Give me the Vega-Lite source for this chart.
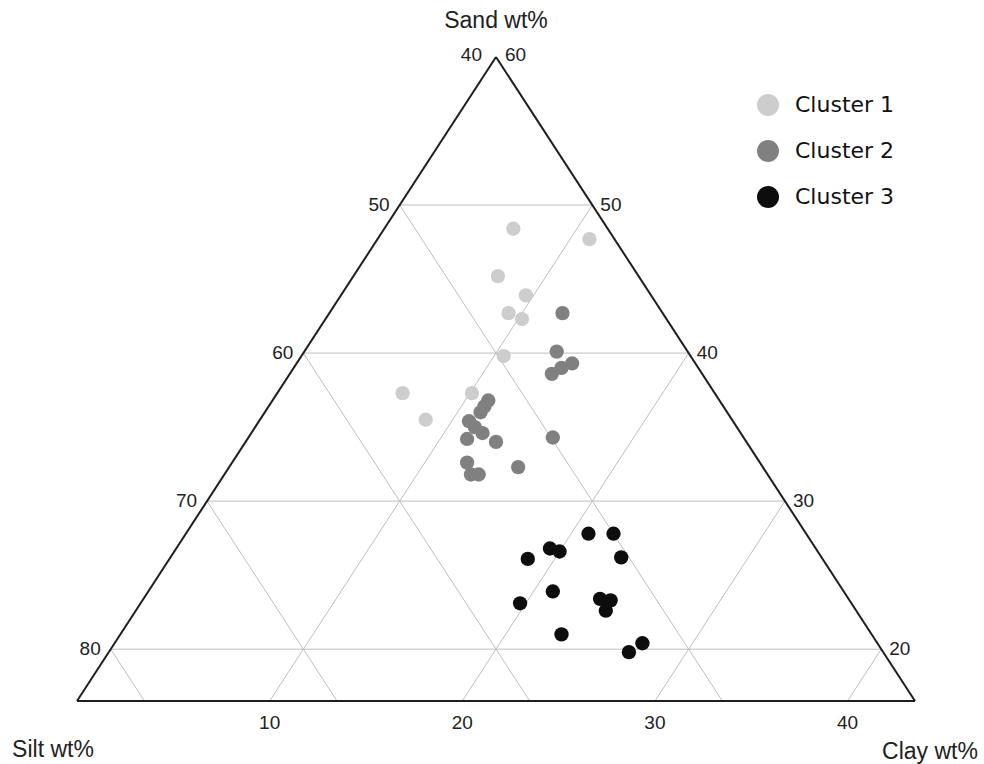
{
  "$schema": "https://vega.github.io/schema/vega-lite/v6.json",
  "width": 838,
  "height": 644,
  "autosize": {"type": "none"},
  "padding": {"left": 77, "top": 57, "right": 69, "bottom": 63},
  "background": "white",
  "config": {
    "view": {"stroke": null},
    "legend": {
      "orient": "none",
      "legendX": 680,
      "legendY": 37,
      "title": null,
      "symbolType": "circle",
      "symbolSize": 484,
      "symbolStrokeWidth": 0,
      "symbolOpacity": 1,
      "labelFont": "DejaVu Sans",
      "labelFontSize": 22,
      "labelColor": "#111111",
      "labelOffset": 16,
      "rowPadding": 24,
      "padding": 0
    }
  },
  "datasets": {
    "points": [
      {"cluster": "Cluster 1", "sand": 48.4, "clay": 6.7, "silt": 44.9},
      {"cluster": "Cluster 1", "sand": 47.7, "clay": 11.0, "silt": 41.3},
      {"cluster": "Cluster 1", "sand": 45.2, "clay": 7.5, "silt": 47.3},
      {"cluster": "Cluster 1", "sand": 43.9, "clay": 9.6, "silt": 46.5},
      {"cluster": "Cluster 1", "sand": 42.7, "clay": 9.3, "silt": 48.0},
      {"cluster": "Cluster 1", "sand": 42.3, "clay": 10.2, "silt": 47.5},
      {"cluster": "Cluster 1", "sand": 39.8, "clay": 10.5, "silt": 49.7},
      {"cluster": "Cluster 1", "sand": 37.3, "clay": 6.5, "silt": 56.2},
      {"cluster": "Cluster 1", "sand": 37.3, "clay": 10.1, "silt": 52.6},
      {"cluster": "Cluster 1", "sand": 35.5, "clay": 8.6, "silt": 55.9},
      {"cluster": "Cluster 2", "sand": 42.7, "clay": 12.1, "silt": 45.2},
      {"cluster": "Cluster 2", "sand": 40.1, "clay": 13.1, "silt": 46.8},
      {"cluster": "Cluster 2", "sand": 39.3, "clay": 14.3, "silt": 46.4},
      {"cluster": "Cluster 2", "sand": 39.0, "clay": 13.9, "silt": 47.1},
      {"cluster": "Cluster 2", "sand": 38.6, "clay": 13.6, "silt": 47.8},
      {"cluster": "Cluster 2", "sand": 36.8, "clay": 11.2, "silt": 52.0},
      {"cluster": "Cluster 2", "sand": 36.4, "clay": 11.2, "silt": 52.4},
      {"cluster": "Cluster 2", "sand": 36.0, "clay": 11.2, "silt": 52.8},
      {"cluster": "Cluster 2", "sand": 35.4, "clay": 10.9, "silt": 53.7},
      {"cluster": "Cluster 2", "sand": 35.0, "clay": 11.4, "silt": 53.6},
      {"cluster": "Cluster 2", "sand": 34.6, "clay": 12.0, "silt": 53.4},
      {"cluster": "Cluster 2", "sand": 34.2, "clay": 11.4, "silt": 54.4},
      {"cluster": "Cluster 2", "sand": 34.0, "clay": 13.0, "silt": 53.0},
      {"cluster": "Cluster 2", "sand": 34.3, "clay": 15.8, "silt": 49.9},
      {"cluster": "Cluster 2", "sand": 32.6, "clay": 12.2, "silt": 55.2},
      {"cluster": "Cluster 2", "sand": 32.3, "clay": 15.0, "silt": 52.7},
      {"cluster": "Cluster 2", "sand": 31.8, "clay": 12.8, "silt": 55.4},
      {"cluster": "Cluster 2", "sand": 31.8, "clay": 13.2, "silt": 55.0},
      {"cluster": "Cluster 3", "sand": 27.8, "clay": 20.9, "silt": 51.3},
      {"cluster": "Cluster 3", "sand": 27.8, "clay": 22.2, "silt": 50.0},
      {"cluster": "Cluster 3", "sand": 26.8, "clay": 19.4, "silt": 53.8},
      {"cluster": "Cluster 3", "sand": 26.6, "clay": 20.0, "silt": 53.4},
      {"cluster": "Cluster 3", "sand": 26.1, "clay": 18.6, "silt": 55.3},
      {"cluster": "Cluster 3", "sand": 26.2, "clay": 23.4, "silt": 50.4},
      {"cluster": "Cluster 3", "sand": 23.9, "clay": 21.0, "silt": 55.1},
      {"cluster": "Cluster 3", "sand": 23.4, "clay": 23.7, "silt": 52.9},
      {"cluster": "Cluster 3", "sand": 23.3, "clay": 24.3, "silt": 52.4},
      {"cluster": "Cluster 3", "sand": 22.6, "clay": 24.4, "silt": 53.0},
      {"cluster": "Cluster 3", "sand": 23.1, "clay": 19.7, "silt": 57.2},
      {"cluster": "Cluster 3", "sand": 21.0, "clay": 22.9, "silt": 56.1},
      {"cluster": "Cluster 3", "sand": 20.4, "clay": 27.4, "silt": 52.2},
      {"cluster": "Cluster 3", "sand": 19.8, "clay": 27.0, "silt": 53.2}
    ],
    "grid": [
      {"kind": "sand", "s1": 50, "c1": 0, "s2": 50, "c2": 10},
      {"kind": "sand", "s1": 40, "c1": 0, "s2": 40, "c2": 20},
      {"kind": "sand", "s1": 30, "c1": 0, "s2": 30, "c2": 30},
      {"kind": "sand", "s1": 20, "c1": 0, "s2": 20, "c2": 40},
      {"kind": "clay", "s1": 16.5, "c1": 10, "s2": 50, "c2": 10},
      {"kind": "clay", "s1": 16.5, "c1": 20, "s2": 40, "c2": 20},
      {"kind": "clay", "s1": 16.5, "c1": 30, "s2": 30, "c2": 30},
      {"kind": "clay", "s1": 16.5, "c1": 40, "s2": 20, "c2": 40},
      {"kind": "silt", "s1": 50, "c1": 0, "s2": 16.5, "c2": 33.5},
      {"kind": "silt", "s1": 40, "c1": 0, "s2": 16.5, "c2": 23.5},
      {"kind": "silt", "s1": 30, "c1": 0, "s2": 16.5, "c2": 13.5},
      {"kind": "silt", "s1": 20, "c1": 0, "s2": 16.5, "c2": 3.5}
    ],
    "frame": [
      {"s1": 60, "c1": 0, "s2": 16.5, "c2": 0},
      {"s1": 16.5, "c1": 0, "s2": 16.5, "c2": 43.5},
      {"s1": 16.5, "c1": 43.5, "s2": 60, "c2": 0}
    ],
    "labels": [
      {"side": "apexL", "lab": "40", "sand": 60, "clay": 0},
      {"side": "apexR", "lab": "60", "sand": 60, "clay": 0},
      {"side": "left", "lab": "50", "sand": 50, "clay": 0},
      {"side": "left", "lab": "60", "sand": 40, "clay": 0},
      {"side": "left", "lab": "70", "sand": 30, "clay": 0},
      {"side": "left", "lab": "80", "sand": 20, "clay": 0},
      {"side": "right", "lab": "50", "sand": 50, "clay": 10},
      {"side": "right", "lab": "40", "sand": 40, "clay": 20},
      {"side": "right", "lab": "30", "sand": 30, "clay": 30},
      {"side": "right", "lab": "20", "sand": 20, "clay": 40},
      {"side": "bottom", "lab": "10", "sand": 16.5, "clay": 10},
      {"side": "bottom", "lab": "20", "sand": 16.5, "clay": 20},
      {"side": "bottom", "lab": "30", "sand": 16.5, "clay": 30},
      {"side": "bottom", "lab": "40", "sand": 16.5, "clay": 40},
      {"side": "titleSand", "lab": "Sand wt%", "sand": 60, "clay": 0},
      {"side": "titleSilt", "lab": "Silt wt%", "sand": 16.5, "clay": 0},
      {"side": "titleClay", "lab": "Clay wt%", "sand": 16.5, "clay": 43.5}
    ]
  },
  "encoding": {
    "x": {"field": "x", "type": "quantitative", "scale": {"domain": [8.25, 51.75], "nice": false, "zero": false}, "axis": null},
    "y": {"field": "y", "type": "quantitative", "scale": {"domain": [16.5, 60], "nice": false, "zero": false}, "axis": null}
  },
  "layer": [
    {
      "data": {"name": "grid"},
      "transform": [
        {"calculate": "datum.c1 + datum.s1 / 2", "as": "x"},
        {"calculate": "datum.s1", "as": "y"},
        {"calculate": "datum.c2 + datum.s2 / 2", "as": "xe"},
        {"calculate": "datum.s2", "as": "ye"}
      ],
      "mark": {"type": "rule", "color": "#bebebe", "strokeWidth": 1},
      "encoding": {"x2": {"field": "xe"}, "y2": {"field": "ye"}}
    },
    {
      "data": {"name": "frame"},
      "transform": [
        {"calculate": "datum.c1 + datum.s1 / 2", "as": "x"},
        {"calculate": "datum.s1", "as": "y"},
        {"calculate": "datum.c2 + datum.s2 / 2", "as": "xe"},
        {"calculate": "datum.s2", "as": "ye"}
      ],
      "mark": {"type": "rule", "color": "#1e1e1e", "strokeWidth": 2},
      "encoding": {"x2": {"field": "xe"}, "y2": {"field": "ye"}}
    },
    {
      "data": {"name": "points"},
      "transform": [
        {"calculate": "datum.clay + datum.sand / 2", "as": "x"},
        {"calculate": "datum.sand", "as": "y"}
      ],
      "mark": {"type": "circle", "size": 205, "opacity": 1},
      "encoding": {
        "color": {
          "field": "cluster",
          "type": "nominal",
          "scale": {"domain": ["Cluster 1", "Cluster 2", "Cluster 3"], "range": ["#cdcdcd", "#808080", "#0d0d0d"]}
        }
      }
    },
    {
      "data": {"name": "labels"},
      "transform": [
        {"filter": "datum.side === 'left'"},
        {"calculate": "datum.clay + datum.sand / 2", "as": "x"},
        {"calculate": "datum.sand", "as": "y"}
      ],
      "mark": {"type": "text", "align": "right", "baseline": "middle", "dx": -10, "font": "Liberation Sans", "fontSize": 19, "color": "#222222"},
      "encoding": {"text": {"field": "lab"}}
    },
    {
      "data": {"name": "labels"},
      "transform": [
        {"filter": "datum.side === 'right'"},
        {"calculate": "datum.clay + datum.sand / 2", "as": "x"},
        {"calculate": "datum.sand", "as": "y"}
      ],
      "mark": {"type": "text", "align": "left", "baseline": "middle", "dx": 8, "font": "Liberation Sans", "fontSize": 19, "color": "#222222"},
      "encoding": {"text": {"field": "lab"}}
    },
    {
      "data": {"name": "labels"},
      "transform": [
        {"filter": "datum.side === 'bottom'"},
        {"calculate": "datum.clay + datum.sand / 2", "as": "x"},
        {"calculate": "datum.sand", "as": "y"}
      ],
      "mark": {"type": "text", "align": "center", "baseline": "middle", "dy": 22, "font": "Liberation Sans", "fontSize": 19, "color": "#222222"},
      "encoding": {"text": {"field": "lab"}}
    },
    {
      "data": {"name": "labels"},
      "transform": [
        {"filter": "datum.side === 'apexL'"},
        {"calculate": "datum.clay + datum.sand / 2", "as": "x"},
        {"calculate": "datum.sand", "as": "y"}
      ],
      "mark": {"type": "text", "align": "right", "baseline": "middle", "dx": -14, "dy": -2, "font": "Liberation Sans", "fontSize": 19, "color": "#222222"},
      "encoding": {"text": {"field": "lab"}}
    },
    {
      "data": {"name": "labels"},
      "transform": [
        {"filter": "datum.side === 'apexR'"},
        {"calculate": "datum.clay + datum.sand / 2", "as": "x"},
        {"calculate": "datum.sand", "as": "y"}
      ],
      "mark": {"type": "text", "align": "left", "baseline": "middle", "dx": 9, "dy": -2, "font": "Liberation Sans", "fontSize": 19, "color": "#222222"},
      "encoding": {"text": {"field": "lab"}}
    },
    {
      "data": {"name": "labels"},
      "transform": [
        {"filter": "datum.side === 'titleSand'"},
        {"calculate": "datum.clay + datum.sand / 2", "as": "x"},
        {"calculate": "datum.sand", "as": "y"}
      ],
      "mark": {"type": "text", "align": "center", "baseline": "middle", "dy": -36, "font": "Liberation Sans", "fontSize": 23, "color": "#222222"},
      "encoding": {"text": {"field": "lab"}}
    },
    {
      "data": {"name": "labels"},
      "transform": [
        {"filter": "datum.side === 'titleSilt'"},
        {"calculate": "datum.clay + datum.sand / 2", "as": "x"},
        {"calculate": "datum.sand", "as": "y"}
      ],
      "mark": {"type": "text", "align": "center", "baseline": "middle", "dx": -24, "dy": 49, "font": "Liberation Sans", "fontSize": 23, "color": "#222222"},
      "encoding": {"text": {"field": "lab"}}
    },
    {
      "data": {"name": "labels"},
      "transform": [
        {"filter": "datum.side === 'titleClay'"},
        {"calculate": "datum.clay + datum.sand / 2", "as": "x"},
        {"calculate": "datum.sand", "as": "y"}
      ],
      "mark": {"type": "text", "align": "center", "baseline": "middle", "dx": 15, "dy": 51, "font": "Liberation Sans", "fontSize": 23, "color": "#222222"},
      "encoding": {"text": {"field": "lab"}}
    }
  ]
}
